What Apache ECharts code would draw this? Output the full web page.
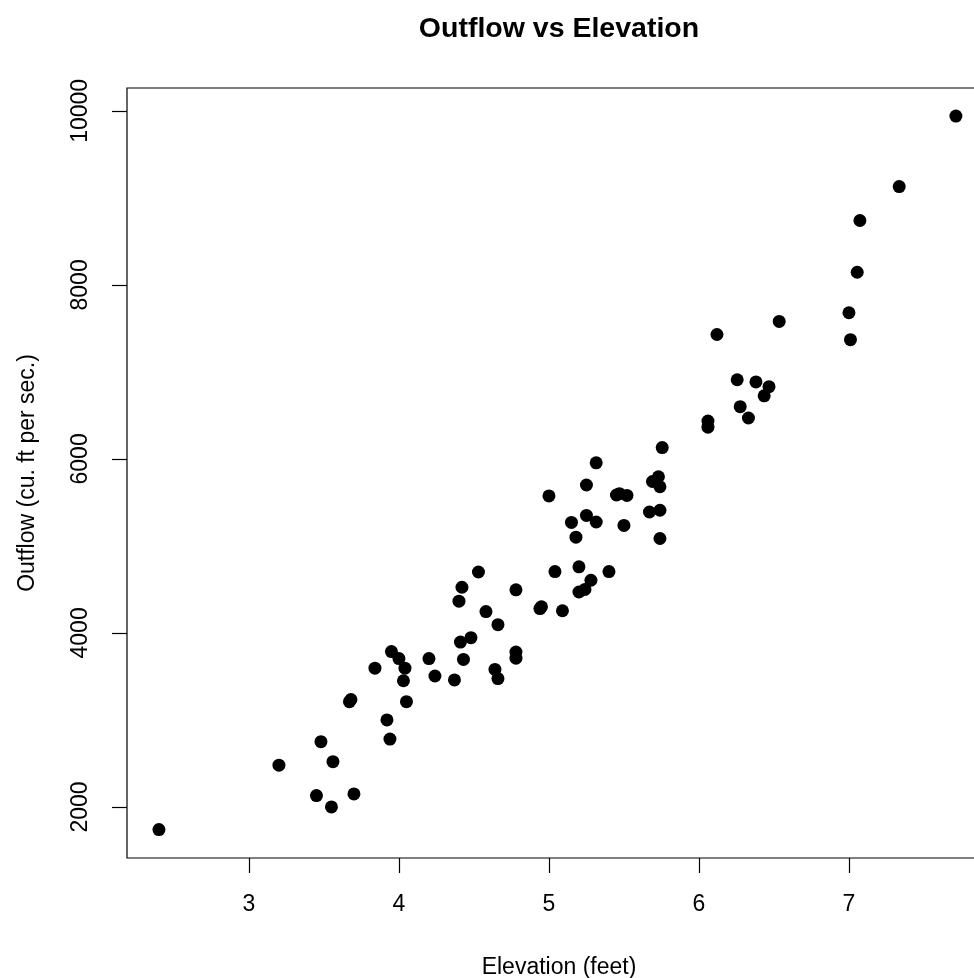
<!DOCTYPE html>
<html>
<head>
<meta charset="utf-8">
<title>Outflow vs Elevation</title>
<script src="https://cdn.jsdelivr.net/npm/echarts@6/dist/echarts.min.js"></script>
<style>
  html, body { margin: 0; padding: 0; background: #fff; }
  #chart { width: 974px; height: 978px; }
</style>
</head>
<body>
<div id="chart"></div>
<script>
// elevation (feet) and outflow (cu. ft per sec.), one entry per observation
const elevation = [
  2.40, 3.20, 3.45, 3.55, 3.70, 3.48, 3.56, 3.67, 3.68, 3.92,
  3.94, 3.84, 3.95, 4.00, 4.04, 4.03, 4.05, 4.20, 4.24, 4.37,
  4.40, 4.42, 4.53, 4.41, 4.48, 4.43, 4.58, 4.66, 4.64, 4.66,
  4.78, 4.78, 4.78, 4.94, 4.95, 5.00, 5.04, 5.09, 5.15, 5.18,
  5.20, 5.20, 5.24, 5.28, 5.25, 5.25, 5.315, 5.315, 5.40, 5.45,
  5.47, 5.52, 5.50, 5.67, 5.74, 5.69, 5.73, 5.74, 5.74, 5.755,
  6.06, 6.06, 6.12, 6.255, 6.275, 6.33, 6.38, 6.435, 6.467, 6.535,
  7.00, 7.01, 7.055, 7.073, 7.335, 7.713
];
const outflow = [
  1740, 2480, 2130, 2000, 2150, 2750, 2520, 3210, 3235, 3000,
  2780, 3595, 3785, 3705, 3595, 3450, 3210, 3705, 3505, 3460,
  4365, 4525, 4700, 3895, 3945, 3695, 4245, 4095, 3580, 3475,
  4495, 3780, 3710, 4280, 4300, 5575, 4705, 4255, 5270, 5100,
  4760, 4470, 4500, 4605, 5700, 5350, 5955, 5275, 4705, 5585,
  5600, 5580, 5235, 5390, 5410, 5740, 5795, 5680, 5085, 6130,
  6435, 6365, 7430, 6910, 6600, 6470, 6885, 6725, 6830, 7580,
  7680, 7370, 8145, 8740, 9130, 9940
];
const xTicks = [3, 4, 5, 6, 7];
const yTicks = [2000, 4000, 6000, 8000, 10000];

const points = elevation.map((e, i) => [e, outflow[i]]);
const font = "'Liberation Sans', Arial, Helvetica, sans-serif";

const chart = echarts.init(document.getElementById("chart"), null, { renderer: "canvas" });

const option = {
  backgroundColor: "#fff",
  animation: false,
  textStyle: { fontFamily: font, color: "#000" },
  title: {
    text: "Outflow vs Elevation",
    left: 559,
    top: 15,
    padding: 0,
    textAlign: "center",
    textStyle: { fontFamily: font, fontSize: 28.5, fontWeight: "bold", color: "#000" },
  },
  grid: {
    left: 127,
    top: 88,
    width: 864,
    height: 770,
    outerBoundsMode: "none",
    containLabel: false,
    show: true,
    borderColor: "#000",
    borderWidth: 1.2,
    backgroundColor: "transparent",
  },
  xAxis: {
    type: "value",
    min: 2.187,
    max: 7.947,
    name: "Elevation (feet)",
    nameLocation: "middle",
    nameGap: 98,
    nameTextStyle: { fontFamily: font, fontSize: 23, color: "#000" },
    axisLine: { show: false },
    splitLine: { show: false },
    axisTick: {
      show: true,
      customValues: xTicks,
      length: 15,
      lineStyle: { color: "#000", width: 1.2 },
    },
    axisLabel: {
      customValues: xTicks,
      margin: 35,
      fontSize: 23,
      color: "#000",
      fontFamily: font,
      formatter: (v) => String(v),
    },
  },
  yAxis: {
    type: "value",
    min: 1413,
    max: 10263,
    name: "Outflow (cu. ft per sec.)",
    nameLocation: "middle",
    nameRotate: 90,
    nameGap: 88,
    nameTextStyle: { fontFamily: font, fontSize: 23, color: "#000" },
    axisLine: { show: false },
    splitLine: { show: false },
    axisTick: {
      show: true,
      customValues: yTicks,
      length: 15,
      lineStyle: { color: "#000", width: 1.2 },
    },
    axisLabel: {
      customValues: yTicks,
      rotate: 90,
      margin: 35,
      fontSize: 23,
      color: "#000",
      fontFamily: font,
      formatter: (v) => String(v),
    },
  },
  series: [
    {
      type: "scatter",
      data: points,
      symbol: "circle",
      symbolSize: 13,
      itemStyle: { color: "#000", opacity: 1 },
      clip: false,
    },
  ],
};

chart.setOption(option);
</script>
</body>
</html>
